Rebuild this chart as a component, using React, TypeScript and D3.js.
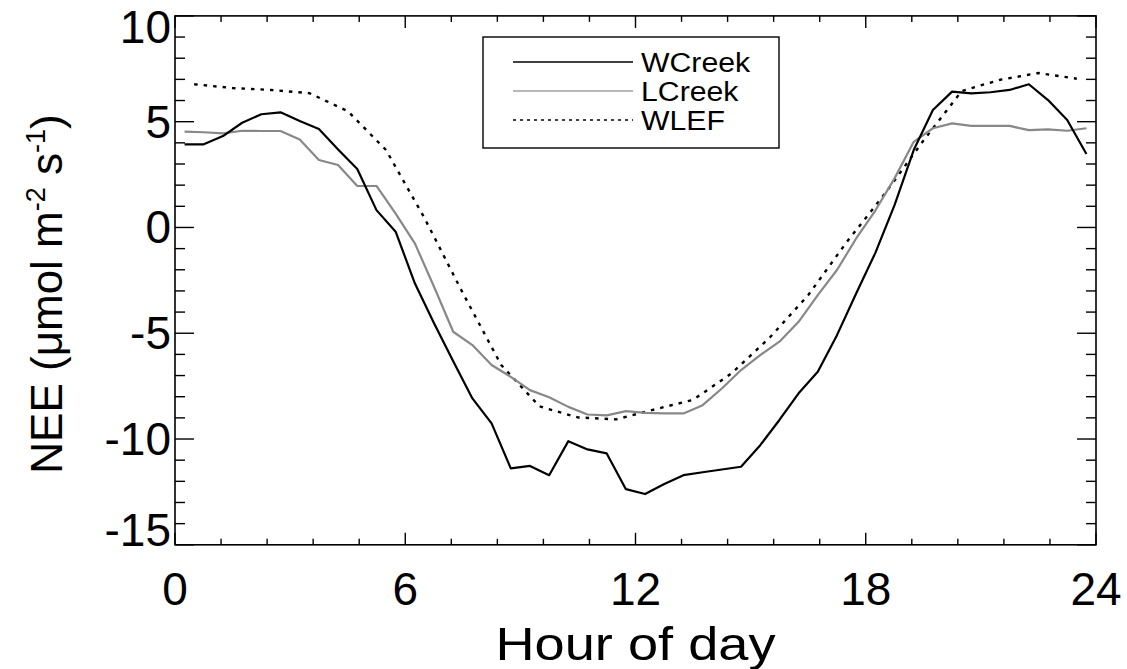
import React from "react";
import * as d3 from "d3";

// half-hourly tower sites
const halfHours = [
  0.25, 0.75, 1.25, 1.75, 2.25, 2.75, 3.25, 3.75, 4.25, 4.75, 5.25, 5.75,
  6.25, 6.75, 7.25, 7.75, 8.25, 8.75, 9.25, 9.75, 10.25, 10.75, 11.25, 11.75,
  12.25, 12.75, 13.25, 13.75, 14.25, 14.75, 15.25, 15.75, 16.25, 16.75, 17.25, 17.75,
  18.25, 18.75, 19.25, 19.75, 20.25, 20.75, 21.25, 21.75, 22.25, 22.75, 23.25, 23.75,
];
const wcreek = [
  3.93, 3.93, 4.32, 4.95, 5.35, 5.44, 5.03, 4.65, 3.69, 2.76, 0.82, -0.2,
  -2.64, -4.53, -6.32, -8.08, -9.26, -11.39, -11.27, -11.71, -10.1, -10.49, -10.68, -12.37,
  -12.6, -12.13, -11.71, -11.57, -11.44, -11.31, -10.29, -9.1, -7.84, -6.82, -5.09, -3.12,
  -1.2, 1.06, 3.66, 5.55, 6.42, 6.34, 6.39, 6.5, 6.77, 6.02, 5.08, 3.47,
];
const lcreek = [
  4.53, 4.5, 4.45, 4.57, 4.56, 4.56, 4.16, 3.19, 2.95, 1.96, 1.96, 0.65,
  -0.75, -2.8, -4.93, -5.56, -6.5, -7.06, -7.69, -8.03, -8.48, -8.84, -8.88, -8.68,
  -8.76, -8.79, -8.79, -8.4, -7.61, -6.74, -6.03, -5.4, -4.46, -3.2, -2.01, -0.52,
  0.8, 2.32, 4.05, 4.69, 4.92, 4.8, 4.8, 4.8, 4.6, 4.64, 4.57, 4.69,
];

// hourly tall tower
const hours = [
  0.5, 1.5, 2.5, 3.5, 4.5, 5.5, 6.5, 7.5, 8.5, 9.5, 10.5, 11.5,
  12.5, 13.5, 14.5, 15.5, 16.5, 17.5, 18.5, 19.5, 20.5, 21.5, 22.5, 23.5,
];
const wlef = [
  6.77, 6.59, 6.5, 6.35, 5.5, 3.66, 0.45, -3.1, -6.5, -8.46, -8.98, -9.07,
  -8.6, -8.15, -6.9, -5.2, -3.2, -0.7, 1.6, 4.1, 6.45, 6.98, 7.3, 7.03,
];

const xMajor = [0, 6, 12, 18, 24];
const xMinor = d3.range(0, 24.01, 1.2);
const yMajor = [10, 5, 0, -5, -10, -15];
const yMinor = d3.range(-15, 10.01, 1);

const legendItems = [
  { name: "WCreek", color: "#000", dash: "none", width: 1.6 },
  { name: "LCreek", color: "#a0a0a0", dash: "none", width: 1.6 },
  { name: "WLEF", color: "#000", dash: "3,4", width: 1.6 },
];

const W = 1127;
const H = 669;
const font = "'Liberation Sans', Arial, Helvetica, sans-serif";

export default function App() {
  const x = d3.scaleLinear().domain([0, 24]).range([175, 1096]);
  const y = d3.scaleLinear().domain([-15, 10]).range([544.8, 15.9]);
  const [x0, x1] = x.range();
  const [y0, y1] = y.range();

  const line = d3
    .line<[number, number]>()
    .x((d) => x(d[0]))
    .y((d) => y(d[1]));

  const zip = (a: number[], b: number[]) => a.map((v, i) => [v, b[i]] as [number, number]);

  // IDL pushes the end labels inside the frame a little
  const yLabelY = (v: number) => {
    if (v === 10) return y(v) + 11;
    if (v === -15) return y(v) - 15;
    return y(v);
  };

  return (
    <svg
      width={W}
      height={H}
      style={{ position: "absolute", left: 0, top: 0, background: "#fff" }}
      fontFamily={font}
    >
      <defs>
        <clipPath id="plot">
          <rect x={x0} y={y1} width={x1 - x0} height={y0 - y1} />
        </clipPath>
      </defs>

      {/* data */}
      <g clipPath="url(#plot)" fill="none" strokeLinejoin="round">
        <path d={line(zip(hours, wlef)) ?? ""} stroke="#000" strokeWidth={2.4} strokeDasharray="3.5,6" />
        <path d={line(zip(halfHours, lcreek)) ?? ""} stroke="#888" strokeWidth={2.2} />
        <path d={line(zip(halfHours, wcreek)) ?? ""} stroke="#000" strokeWidth={2.2} />
      </g>

      {/* frame + ticks */}
      <rect x={x0} y={y1} width={x1 - x0} height={y0 - y1} fill="none" stroke="#000" strokeWidth={1.6} />
      <g stroke="#000" strokeWidth={1.4}>
        {xMinor.map((t) => {
          const major = xMajor.some((m) => Math.abs(m - t) < 1e-6);
          const len = major ? 12 : 6;
          return (
            <g key={"x" + t}>
              <line x1={x(t)} x2={x(t)} y1={y0} y2={y0 - len} />
              <line x1={x(t)} x2={x(t)} y1={y1} y2={y1 + len} />
            </g>
          );
        })}
        {yMinor.map((t) => {
          const major = yMajor.some((m) => Math.abs(m - t) < 1e-6);
          const len = major ? 19 : 10;
          return (
            <g key={"y" + t}>
              <line x1={x0} x2={x0 + len} y1={y(t)} y2={y(t)} />
              <line x1={x1} x2={x1 - len} y1={y(t)} y2={y(t)} />
            </g>
          );
        })}
      </g>

      {/* tick labels */}
      <g fontSize={46} fill="#000">
        {xMajor.map((t) => (
          <text key={"xl" + t} x={x(t)} y={605} textAnchor="middle">
            {t}
          </text>
        ))}
        {yMajor.map((t) => (
          <text key={"yl" + t} x={171} y={yLabelY(t)} textAnchor="end" dominantBaseline="central">
            {t}
          </text>
        ))}
      </g>

      {/* axis titles */}
      <text
        x={x(12)}
        y={660}
        textAnchor="middle"
        fontSize={46}
        textLength={280}
        lengthAdjust="spacingAndGlyphs"
      >
        Hour of day
      </text>
      <text
        transform={`translate(62, 294) rotate(-90)`}
        textAnchor="middle"
        fontSize={44}
      >
        NEE (μmol m
        <tspan fontSize={27} dy={-17}>-2</tspan>
        <tspan dy={17}> s</tspan>
        <tspan fontSize={27} dy={-17}>-1</tspan>
        <tspan dy={17}>)</tspan>
      </text>

      {/* legend */}
      <g>
        <rect x={483} y={37} width={296} height={111} fill="#fff" stroke="#000" strokeWidth={1.4} />
        {legendItems.map((d, i) => {
          const ly = 62 + i * 29;
          return (
            <g key={d.name}>
              <line x1={513} x2={633} y1={ly} y2={ly} stroke={d.color} strokeWidth={d.width} strokeDasharray={d.dash} />
              <text
                transform={`translate(641, ${ly + 10}) scale(1.12, 1)`}
                fontSize={27}
              >
                {d.name}
              </text>
            </g>
          );
        })}
      </g>
    </svg>
  );
}
